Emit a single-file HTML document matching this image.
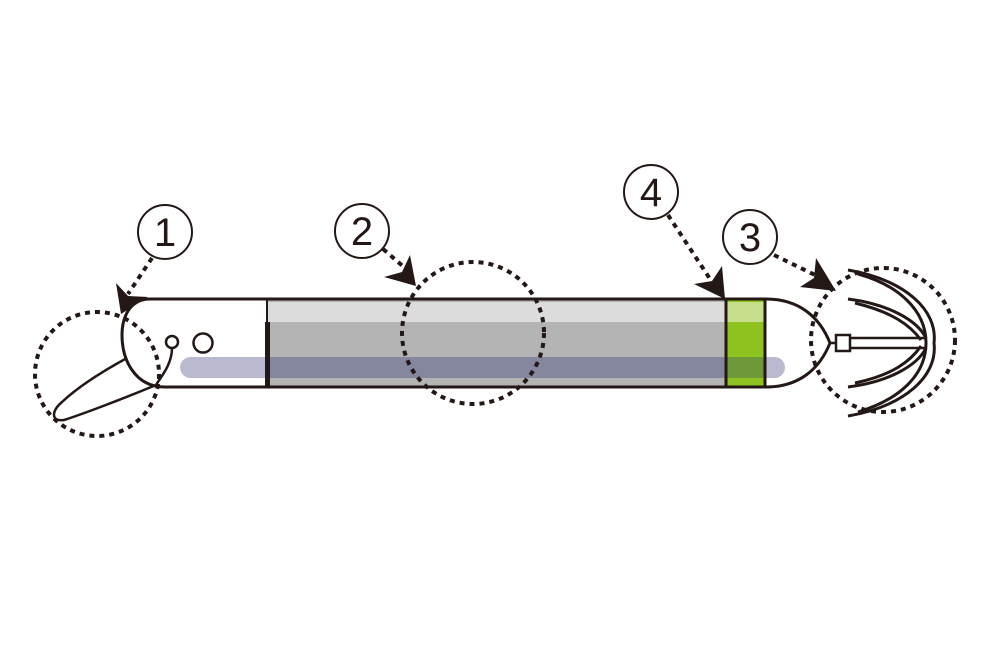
<!DOCTYPE html>
<html><head><meta charset="utf-8"><style>
html,body{margin:0;padding:0;background:#fff;width:1000px;height:650px;overflow:hidden}
text{font-family:"Liberation Sans",sans-serif;font-size:40px;fill:#231815}
</style></head><body>
<svg width="1000" height="650" viewBox="0 0 1000 650" xmlns="http://www.w3.org/2000/svg">
<rect x="266" y="300" width="462" height="86" fill="#b4b4b4"/>
<rect x="266" y="302" width="462" height="20" fill="#dcdcdc"/>
<rect x="726" y="300" width="40" height="86" fill="#8dc21f"/>
<rect x="726" y="302" width="40" height="20" fill="#c6df8c"/>
<rect x="180" y="357" width="605" height="21" rx="10.5" fill="#b9bad0"/>
<rect x="268" y="357" width="458" height="21" fill="#84879e"/>
<rect x="726" y="357" width="40" height="21" fill="#6d993a"/>
<path d="M266,299 H150 C128,299 122,320 122,335 C122,360 135,387 165,387 H266" fill="none" stroke="#231815" stroke-width="3"/>
<path d="M766,299 C800,299 820,318 830,343 C820,368 800,387 766,387" fill="none" stroke="#231815" stroke-width="3"/>
<line x1="266" y1="299" x2="766" y2="299" stroke="#231815" stroke-width="3"/>
<line x1="266" y1="387" x2="766" y2="387" stroke="#231815" stroke-width="3"/>
<rect x="265" y="322" width="5" height="65" fill="#231815"/>
<line x1="267" y1="299" x2="267" y2="387" stroke="#231815" stroke-width="2"/>
<line x1="726" y1="299" x2="726" y2="387" stroke="#231815" stroke-width="3"/>
<line x1="765" y1="299" x2="765" y2="387" stroke="#231815" stroke-width="3"/>
<circle cx="172" cy="342" r="6" fill="#fff" stroke="#231815" stroke-width="2.5"/>
<circle cx="203" cy="343" r="9.5" fill="#fff" stroke="#231815" stroke-width="2.5"/>
<path d="M172,348 C172,365 160,378 156,385 C120,400 80,415 64,420 C50,422 52,410 62,402 C80,385 105,370 127,358" fill="none" stroke="#231815" stroke-width="2.5"/>
<rect x="836" y="335" width="14" height="16" fill="#fff" stroke="#231815" stroke-width="2.5"/>
<line x1="830" y1="343" x2="836" y2="343" stroke="#231815" stroke-width="2.5"/>
<path d="M850,338 H925 M850,348 H925" stroke="#231815" stroke-width="2.5"/>
<g fill="none" stroke="#231815" stroke-width="3">
<path d="M848,270 C905,280 938,310 934,343 C938,376 905,406 848,416"/>
<path d="M858,274 C898,285 926,310 926,343 C926,376 898,400 858,412"/>
<path d="M848,299 C888,304 917,320 926,338"/>
<path d="M848,387 C888,382 917,366 926,348"/>
<path d="M855,303 C892,312 910,325 921,340"/>
<path d="M855,383 C892,375 910,362 921,346"/>
</g>
<g fill="none" stroke="#231815" stroke-width="4" stroke-dasharray="5,5">
<circle cx="97" cy="374" r="62"/>
<circle cx="473" cy="333" r="71"/>
<circle cx="883" cy="340" r="72"/>
<path d="M152,258 L128,294"/>
<path d="M383,249 L405,268"/>
<path d="M668,215 L712,282"/>
<path d="M774,255 L815,275"/>
</g>
<g fill="#231815">
<polygon points="121,314 116,283 128,296 148,297"/>
<polygon points="416,286 384,277 402,272 410,255"/>
<polygon points="725,299 694,284 712,281 722,266"/>
<polygon points="836,291 800,287 814,278 816,258"/>
</g>
<g fill="#fff" stroke="#231815" stroke-width="2">
<circle cx="165" cy="232" r="27"/>
<circle cx="362" cy="231" r="27"/>
<circle cx="651" cy="192" r="27"/>
<circle cx="750" cy="237" r="27"/>
</g>
<text x="165" y="246" text-anchor="middle">1</text>
<text x="362" y="245" text-anchor="middle">2</text>
<text x="651" y="206" text-anchor="middle">4</text>
<text x="750" y="251" text-anchor="middle">3</text>
</svg>
</body></html>
